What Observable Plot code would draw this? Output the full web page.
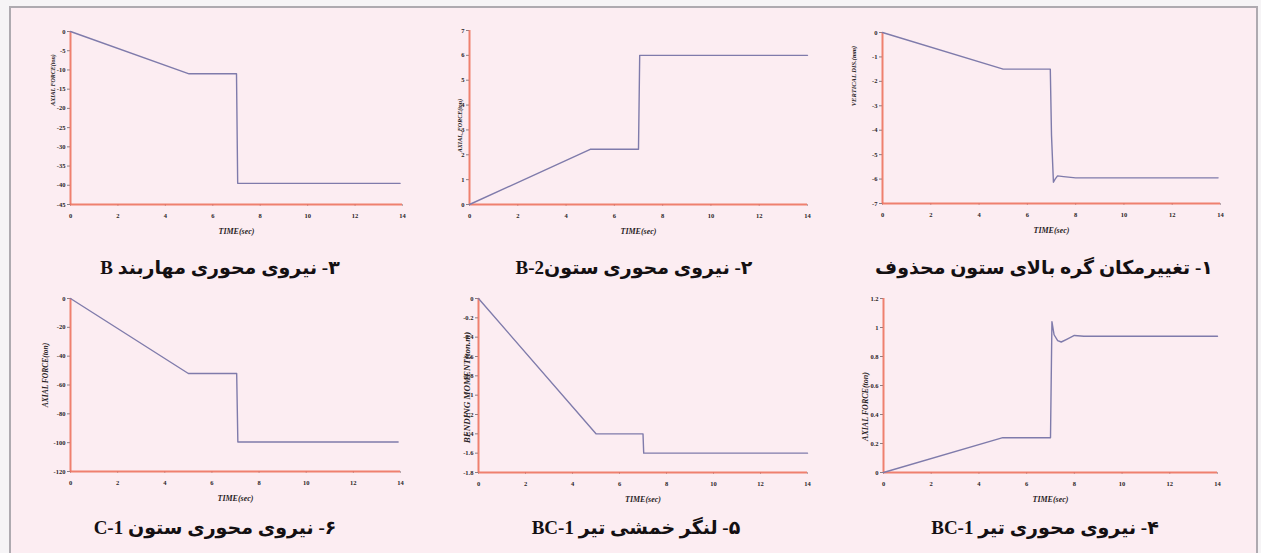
<!DOCTYPE html>
<html>
<head>
<meta charset="utf-8">
<script src="https://cdn.jsdelivr.net/npm/d3@7"></script>
<script src="https://cdn.jsdelivr.net/npm/@observablehq/plot@0.6"></script>
<style>
  html, body { margin: 0; padding: 0; width: 1261px; height: 553px; overflow: hidden; background: #f6f4f6; }
  #sheet { position: absolute; left: 9px; top: 6px; width: 1245px; height: 620px;
           border: 2px solid #aeaab0; background: #fcedf2; }
  .panel { position: absolute; }
  .title { position: absolute; transform: translate(-50%, -50%); direction: rtl; white-space: nowrap;
           font-family: "Liberation Serif", "DejaVu Sans", serif; font-weight: bold; font-size: 19px; color: #141012; }
</style>
</head>
<body>
<div id="sheet"></div>
<script>
// Time axis shared by all six response histories
const timeTicks = [0, 2, 4, 6, 8, 10, 12, 14];
const timeLabel = "TIME(sec)";

// 1 - vertical displacement of the node above the removed column (mm)
const t1 = [0, 5, 6.95, 7.0, 7.08, 7.15, 7.25, 7.5, 8, 13.9];
const v1 = [0, -1.5, -1.5, -4.2, -6.13, -6.0, -5.87, -5.9, -5.95, -5.95];
const ticks1 = [0, -1, -2, -3, -4, -5, -6, -7];

// 2 - axial force in column B-2 (ton)
const t2 = [0, 5, 7, 7.05, 14];
const v2 = [0, 2.22, 2.22, 6.0, 6.0];
const ticks2 = [0, 1, 2, 3, 4, 5, 6, 7];

// 3 - axial force in brace B (ton)
const t3 = [0, 5, 7, 7.05, 13.9];
const v3 = [0, -11, -11, -39.5, -39.5];
const ticks3 = [0, -5, -10, -15, -20, -25, -30, -35, -40, -45];

// 4 - axial force in beam BC-1 (ton)
const t4 = [0, 5, 7, 7.06, 7.15, 7.3, 7.45, 7.7, 8, 8.4, 14];
const v4 = [0, 0.24, 0.24, 1.04, 0.95, 0.91, 0.90, 0.92, 0.945, 0.94, 0.94];
const ticks4 = [0, 0.2, 0.4, 0.6, 0.8, 1, 1.2];

// 5 - bending moment in beam BC-1 (ton.m)
const t5 = [0, 5, 7, 7.03, 14];
const v5 = [0, -1.4, -1.4, -1.6, -1.6];
const ticks5 = [0, -0.2, -0.4, -0.6, -0.8, -1, -1.2, -1.4, -1.6, -1.8];

// 6 - axial force in column C-1 (ton)
const t6 = [0, 5, 7.05, 7.1, 13.9];
const v6 = [0, -52, -52, -99.5, -99.5];
const ticks6 = [0, -20, -40, -60, -80, -100, -120];

const titles = [
  "۱- تغییرمکان گره بالای ستون محذوف",
  "۲- نیروی محوری ستونB-2",
  "۳- نیروی محوری مهاربند B",
  "۴- نیروی محوری تیر BC-1",
  "۵- لنگر خمشی تیر BC-1",
  "۶- نیروی محوری ستون C-1"
];
const yLabels = [
  "VERTICAL DIS.(mm)",
  "AXIAL_FORCE(ton)",
  "AXIAL FORCE(ton)",
  "AXIAL FORCE(ton)",
  "BENDING MOMENT(ton.m)",
  "AXIAL FORCE(ton)"
];

const lineColor = "#7f7bab";
const axisColor = "#ec6c58";
const textColor = "#2a2426";

// Page layout of each panel: frame edges, label placement and title centre
const panels = [
  {t: t3, v: v3, ticks: ticks3, domain: [-45, 0], title: titles[2], yLabel: yLabels[2],
   x0: 70, x1: 402, yTop: 31, yBot: 204, ldx: -17, ldy: -38, lsize: 6, tx: 220, ty: 267},
  {t: t2, v: v2, ticks: ticks2, domain: [0, 7], title: titles[1], yLabel: yLabels[1],
   x0: 469, x1: 807, yTop: 30, yBot: 204, ldx: -9, ldy: 8, lsize: 6, tx: 634, ty: 267},
  {t: t1, v: v1, ticks: ticks1, domain: [-7, 0], title: titles[0], yLabel: yLabels[0],
   x0: 882, x1: 1220, yTop: 32, yBot: 203, ldx: -29, ldy: -42, lsize: 6.5, tx: 1044, ty: 267},
  {t: t6, v: v6, ticks: ticks6, domain: [-120, 0], title: titles[5], yLabel: yLabels[5],
   x0: 70, x1: 400, yTop: 298, yBot: 471, ldx: -25, ldy: -10, lsize: 7.5, tx: 215, ty: 527},
  {t: t5, v: v5, ticks: ticks5, domain: [-1.8, 0], title: titles[4], yLabel: yLabels[4],
   x0: 478, x1: 807, yTop: 298, yBot: 472, ldx: -11, ldy: 2, lsize: 9, tx: 636, ty: 527},
  {t: t4, v: v4, ticks: ticks4, domain: [0, 1.2], title: titles[3], yLabel: yLabels[3],
   x0: 883, x1: 1217, yTop: 298, yBot: 472, ldx: -18, ldy: 21, lsize: 8, tx: 1045, ty: 527}
];

const M = {top: 10, right: 12, bottom: 42, left: 50};

for (const p of panels) {
  const rows = p.t.map((t, i) => ({t, v: p.v[i]}));
  const chart = Plot.plot({
    width: p.x1 - p.x0 + M.left + M.right,
    height: p.yBot - p.yTop + M.top + M.bottom,
    marginTop: M.top, marginRight: M.right, marginBottom: M.bottom, marginLeft: M.left,
    style: {background: "transparent", fontFamily: "Liberation Serif", fontWeight: "bold", color: textColor},
    x: {domain: [0, 14]},
    y: {domain: p.domain},
    marks: [
      Plot.axisX({ticks: timeTicks, tickSize: 2, tickPadding: 7, tickFormat: d => String(d),
                  fontSize: 6.5, stroke: "#b9a8ae", label: null}),
      Plot.axisY({ticks: p.ticks, tickSize: 3, tickPadding: 2, tickFormat: d => String(d),
                  fontSize: 6.5, stroke: "#8a8084", label: null}),
      Plot.ruleY([p.domain[0]], {stroke: axisColor, strokeWidth: 2, strokeOpacity: 0.85}),
      Plot.ruleX([0], {stroke: axisColor, strokeWidth: 2, strokeOpacity: 0.85}),
      Plot.text([timeLabel], {frameAnchor: "bottom", dy: 29, fontSize: 8, fontStyle: "italic",
                              fontWeight: "bold", fill: textColor}),
      Plot.text([p.yLabel], {frameAnchor: "left", rotate: -90, textAnchor: "middle", dx: p.ldx, dy: p.ldy,
                             fontSize: p.lsize, fontStyle: "italic", fontWeight: "bold", fill: textColor}),
      Plot.line(rows, {x: "t", y: "v", stroke: lineColor, strokeWidth: 1.4})
    ]
  });
  const wrap = document.createElement("div");
  wrap.className = "panel";
  wrap.style.left = (p.x0 - M.left) + "px";
  wrap.style.top = (p.yTop - M.top) + "px";
  wrap.appendChild(chart);
  document.body.appendChild(wrap);

  const title = document.createElement("div");
  title.className = "title";
  title.style.left = p.tx + "px";
  title.style.top = p.ty + "px";
  title.textContent = p.title;
  document.body.appendChild(title);
}
</script>
</body>
</html>
